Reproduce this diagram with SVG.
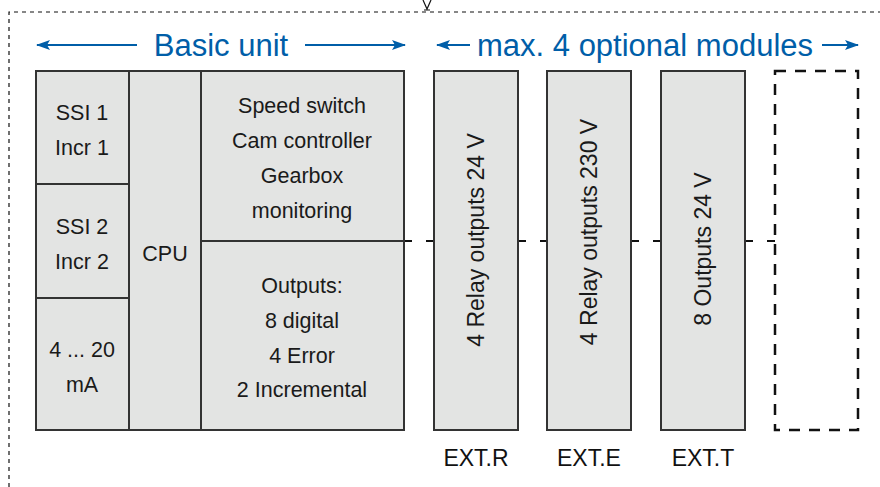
<svg xmlns="http://www.w3.org/2000/svg" width="880" height="487" viewBox="0 0 880 487">
<defs>
<marker id="ah" viewBox="0 0 14 10" refX="13" refY="5" markerWidth="14" markerHeight="10" markerUnits="userSpaceOnUse" orient="auto-start-reverse">
<path d="M0,0 L14,5 L0,10 L3,5 Z" fill="#005ea8"/>
</marker>
</defs>
<style>
.box{fill:#e3e4e3;stroke:#333;stroke-width:2}
.t{font-family:"Liberation Sans",Arial,sans-serif;font-size:21.5px;fill:#1a1a1a;text-anchor:middle}
.r{font-family:"Liberation Sans",Arial,sans-serif;font-size:23px;fill:#1a1a1a;text-anchor:middle}
.h{font-family:"Liberation Sans",Arial,sans-serif;font-size:31px;fill:#005ea8;text-anchor:middle}
.lbl{font-family:"Liberation Sans",Arial,sans-serif;font-size:23px;fill:#111;text-anchor:middle}
.arr{stroke:#005ea8;stroke-width:2;fill:none}
.frame{stroke:#111;stroke-width:1.2;fill:none;stroke-dasharray:4 4}
.conn{stroke:#111;stroke-width:2;fill:none;stroke-dasharray:8 14}
</style>
<g id="frame">
<path class="frame" d="M9,487 V12 H880"/>
<path d="M423,0 L427,9 L431,0 M424,10 H430" stroke="#111" stroke-width="1.2" fill="none"/>
</g>
<g id="headers">
<line class="arr" x1="37" y1="45" x2="137" y2="45" marker-start="url(#ah)"/>
<text class="h" x="221" y="56">Basic unit</text>
<line class="arr" x1="305" y1="45" x2="405" y2="45" marker-end="url(#ah)"/>
<line class="arr" x1="437" y1="45" x2="470" y2="45" marker-start="url(#ah)"/>
<text class="h" x="645" y="56">max. 4 optional modules</text>
<line class="arr" x1="822" y1="45" x2="858" y2="45" marker-end="url(#ah)"/>
</g>
<g id="connectors">
<line class="conn" x1="404" y1="241" x2="434" y2="241"/>
<line class="conn" x1="518" y1="241" x2="548" y2="241"/>
<line class="conn" x1="631" y1="241" x2="661" y2="241"/>
<line class="conn" x1="745" y1="241" x2="775" y2="241"/>
</g>
<g id="basic-unit">
<rect class="box" x="36" y="71" width="368" height="359"/>
<line x1="129" y1="71" x2="129" y2="430" stroke="#333" stroke-width="2"/>
<line x1="201" y1="71" x2="201" y2="430" stroke="#333" stroke-width="2"/>
<line x1="36" y1="184" x2="129" y2="184" stroke="#333" stroke-width="2"/>
<line x1="36" y1="298" x2="129" y2="298" stroke="#333" stroke-width="2"/>
<line x1="201" y1="241" x2="404" y2="241" stroke="#333" stroke-width="2"/>
</g>
<g id="ssi1"><text class="t" x="82" y="120">SSI 1</text><text class="t" x="82" y="155">Incr 1</text></g>
<g id="ssi2"><text class="t" x="82" y="234">SSI 2</text><text class="t" x="82" y="269">Incr 2</text></g>
<g id="analog"><text class="t" x="82" y="357">4 ... 20</text><text class="t" x="82" y="392">mA</text></g>
<g id="cpu"><text class="t" x="165" y="261">CPU</text></g>
<g id="functions">
<text class="t" x="302" y="113">Speed switch</text>
<text class="t" x="302" y="148">Cam controller</text>
<text class="t" x="302" y="183">Gearbox</text>
<text class="t" x="302" y="218">monitoring</text>
</g>
<g id="outputs">
<text class="t" x="302" y="293">Outputs:</text>
<text class="t" x="302" y="328">8 digital</text>
<text class="t" x="302" y="363">4 Error</text>
<text class="t" x="302" y="397">2 Incremental</text>
</g>
<g id="ext-r">
<rect class="box" x="434" y="71" width="84" height="359"/>
<text class="r" transform="translate(484,240) rotate(-90)">4 Relay outputs 24 V</text>
<text class="lbl" x="476" y="466">EXT.R</text>
</g>
<g id="ext-e">
<rect class="box" x="547" y="71" width="84" height="359"/>
<text class="r" transform="translate(597,232) rotate(-90)">4 Relay outputs 230 V</text>
<text class="lbl" x="589" y="466">EXT.E</text>
</g>
<g id="ext-t">
<rect class="box" x="661" y="71" width="84" height="359"/>
<text class="r" transform="translate(711,249) rotate(-90)">8 Outputs 24 V</text>
<text class="lbl" x="703" y="466">EXT.T</text>
</g>
<g id="optional-slot">
<rect x="775" y="71" width="83" height="359" fill="none" stroke="#111" stroke-width="2.5" stroke-dasharray="11 9"/>
</g>
</svg>
